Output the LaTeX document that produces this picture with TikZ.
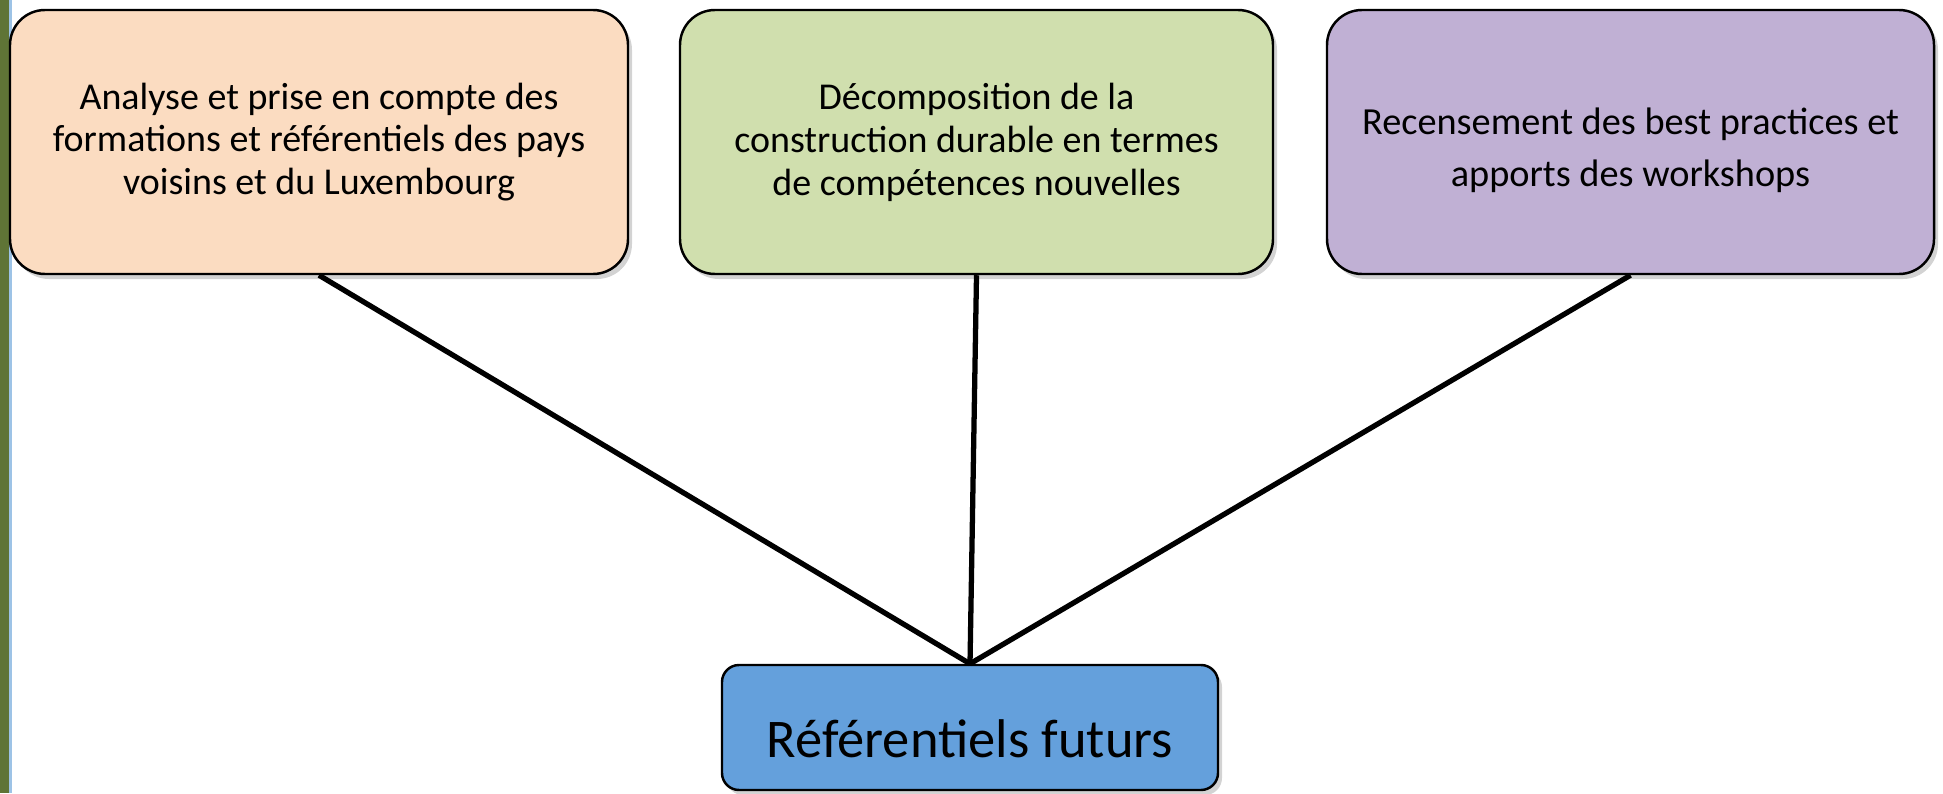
\documentclass[tikz,border=0pt]{standalone}
\usepackage{fontspec}
\setmainfont{Carlito}
\usepackage{tikz}
\usetikzlibrary{shadows}

\definecolor{peach}{HTML}{FBDCC1}
\definecolor{sage}{HTML}{D0DFAE}
\definecolor{lilac}{HTML}{C0B0D4}
\definecolor{sky}{HTML}{64A0DC}
\definecolor{olive}{HTML}{5F7436}
\definecolor{edgeblue}{HTML}{9DC3E6}

\begin{document}
\begin{tikzpicture}[
	topbox/.style={draw, line width=0.7pt, rounded corners=0.35cm, minimum width=#1, minimum height=2.64cm,
		align=center, font=\fontsize{10.8}{12.2}\selectfont,
		drop shadow={shadow xshift=0.04cm, shadow yshift=-0.05cm, opacity=0.35}},
	link/.style={line width=1.5pt}]
	
	\useasboundingbox (0,0) rectangle (19.43,7.93);
	\fill[olive] (0,0) rectangle (0.09,7.93);
	\fill[edgeblue] (0.09,0) rectangle (0.12,7.93);
	
	\node [topbox=6.18cm, fill=peach] (analyse) at (3.19,6.51)
		{Analyse et prise en compte des\\formations et référentiels des pays\\voisins et du Luxembourg};
	\node [topbox=5.93cm, fill=sage] (decomp) at (9.765,6.51)
		{Décomposition de la\\construction durable en termes\\de compétences nouvelles};
	\node [topbox=6.07cm, fill=lilac, font=\fontsize{10.9}{14.8}\selectfont] (recens) at (16.305,6.51)
		{\rule{0pt}{0.44cm}Recensement des best practices et\\apports des workshops};
	
	\node [draw, line width=0.7pt, rounded corners=0.17cm, fill=sky, minimum width=4.96cm, minimum height=1.25cm,
		font=\fontsize{15.5}{18}\selectfont, text height=0.6cm,
		drop shadow={shadow xshift=0.04cm, shadow yshift=-0.05cm, opacity=0.35}] (ref) at (9.70,0.655)
		{Référentiels futurs};
	
	\draw[link] (analyse.south) -- (ref.north);
	\draw[link] (decomp.south) -- (ref.north);
	\draw[link] (recens.south) -- (ref.north);
\end{tikzpicture}
\end{document}
